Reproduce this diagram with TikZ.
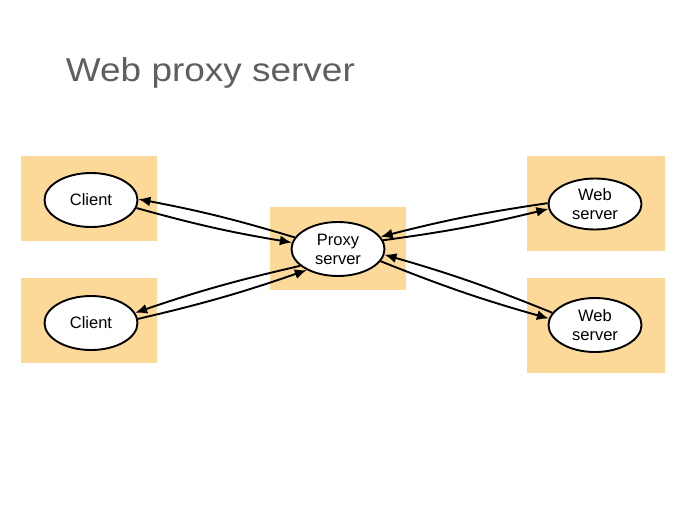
\documentclass[tikz,border=0pt]{standalone}
\usepackage{fontspec}
\setmainfont{Liberation Sans}
\definecolor{myorange}{RGB}{252,217,153}
\definecolor{mygray}{RGB}{95,95,95}
\usetikzlibrary{shapes.geometric,arrows.meta}

\begin{document}
\begin{tikzpicture}[x=1pt,y=-1pt,
    line width=1.9pt,
    host/.style={ellipse,draw,fill=white,inner sep=0pt,minimum width=93pt,
      minimum height=54pt,align=center,font=\fontsize{16.5}{19}\selectfont},
    box/.style={fill=myorange},
    link/.style={-{Latex[length=12pt,width=10pt]},bend right=3}
    ]
    \useasboundingbox (0,0) rectangle (692,514);

    % the title
    \node[anchor=base west,text=mygray,inner sep=0pt,font=\fontsize{33}{40}\selectfont]
      (title) at (65,81) {\scalebox{1.12}[1]{Web proxy server}};

    % the boxes
    \foreach \y in {156,278}
    \fill[box] (21,\y) rectangle +(136,85);
    \fill[box] (270,207) rectangle (406,290);
    \foreach \y in {156,278}
    \fill[box] (527,\y) rectangle +(138,95);

    % the hosts
    \node[host] (c1) at (91,200) {Client};
    \node[host] (c2) at (91,323) {Client};
    \node[host] (p) at (338,249) {Proxy\\server};
    \node[host,minimum height=51pt] (w1) at (595,204) {Web\\server};
    \node[host] (w2) at (595,325) {Web\\server};

    % the requests and replies
    \draw[link] (p.165) to (c1.1);
    \draw[link] (c1.350) to (p.172);
    \draw[link] (p.204) to (c2.13);
    \draw[link] (c2.5) to (p.214);
    \draw[link] (w1.179) to (p.16);
    \draw[link] (p.11) to (w1.186);
    \draw[link] (w2.164) to (p.353);
    \draw[link] (p.344) to (w2.172);
\end{tikzpicture}
\end{document}
